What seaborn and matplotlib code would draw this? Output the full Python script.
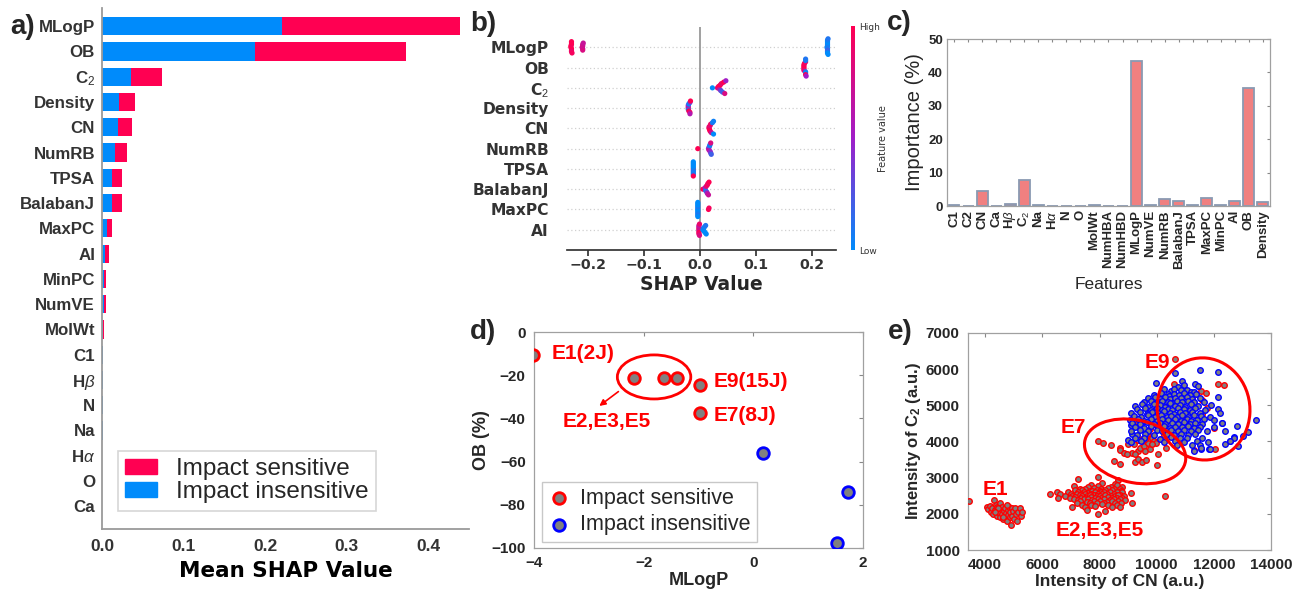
import numpy as np
import pandas as pd
import matplotlib
matplotlib.use('Agg')
import matplotlib.pyplot as plt
import seaborn as sns
from matplotlib.patches import Ellipse, Patch
from matplotlib.colors import LinearSegmentedColormap, Normalize
import matplotlib.cm as cm

sns.set_theme(style='white')
plt.rcParams['font.family'] = ['DejaVu Sans']
plt.rcParams['mathtext.fontset'] = 'custom'
plt.rcParams['mathtext.rm'] = 'Liberation Sans'
plt.rcParams['mathtext.it'] = 'Liberation Sans:italic'
plt.rcParams['mathtext.bf'] = 'Liberation Sans:bold'

RED = '#ff0052'
BLUE = '#008bfb'
ARIAL = ['Liberation Sans']

# ---------------- panel a data ----------------
a_features = ['MLogP', 'OB', 'C$_2$', 'Density', 'CN', 'NumRB', 'TPSA', 'BalabanJ', 'MaxPC', 'AI',
              'MinPC', 'NumVE', 'MolWt', 'C1', 'H$\\beta$', 'N', 'Na', 'H$\\alpha$', 'O', 'Ca']
a_insens = [0.221, 0.187, 0.036, 0.021, 0.019, 0.016, 0.012, 0.012, 0.006, 0.004,
            0.003, 0.003, 0.001, 0.0015, 0.001, 0.001, 0.001, 0.0004, 0.0004, 0.0004]
a_sens = [0.218, 0.186, 0.037, 0.020, 0.018, 0.015, 0.012, 0.012, 0.006, 0.004,
          0.002, 0.002, 0.001, 0.0, 0.0, 0.0, 0.0, 0.0, 0.0, 0.0]
a_xticks = [0.0, 0.1, 0.2, 0.3, 0.4]

# ---------------- panel b data (shap value, feature value) ----------------
b_features = ['MLogP', 'OB', 'C$_2$', 'Density', 'CN', 'NumRB', 'TPSA', 'BalabanJ', 'MaxPC', 'AI']
b_mlogp = [(-0.229, 1.0), (-0.229, 0.95), (-0.230, 1.0), (-0.229, 1.0), (-0.228, 0.95), (-0.229, 1.0),
           (-0.230, 1.0), (-0.229, 0.9), (-0.229, 1.0),
           (-0.209, 0.75), (-0.209, 0.7), (-0.210, 0.8), (-0.209, 0.75), (-0.208, 0.7), (-0.209, 0.8),
           (0.227, 0.0), (0.227, 0.05), (0.227, 0.1), (0.228, 0.0), (0.227, 0.2), (0.227, 0.0),
           (0.226, 0.05), (0.227, 0.15), (0.227, 0.0), (0.228, 0.1), (0.227, 0.0), (0.227, 0.05)]
b_ob = [(0.185, 1.0), (0.185, 0.9), (0.185, 1.0), (0.186, 0.95), (0.185, 1.0), (0.185, 0.85),
        (0.188, 0.1), (0.188, 0.9), (0.188, 0.0), (0.189, 0.5), (0.188, 0.05), (0.188, 1.0), (0.188, 0.1)]
b_c2 = [(0.022, 0.0),
        (0.031, 0.8), (0.033, 1.0), (0.035, 0.6), (0.036, 1.0), (0.037, 0.3), (0.038, 0.9),
        (0.040, 0.2), (0.042, 1.0), (0.044, 0.8), (0.046, 0.5)]
b_density = [(-0.021, 1.0), (-0.021, 0.7), (-0.021, 0.1), (-0.020, 1.0), (-0.021, 0.5), (-0.020, 0.0),
             (-0.018, 0.9), (-0.018, 0.3), (-0.017, 1.0), (-0.018, 0.6)]
b_cn = [(0.016, 1.0), (0.016, 0.9), (0.017, 1.0), (0.018, 0.8), (0.018, 1.0), (0.019, 0.95),
        (0.020, 0.7), (0.022, 0.1), (0.024, 0.0), (0.024, 0.05)]
b_numrb = [(-0.004, 1.0),
           (0.015, 0.6), (0.016, 0.3), (0.016, 0.7), (0.017, 0.1), (0.018, 0.5), (0.018, 0.0),
           (0.019, 0.4), (0.019, 0.8), (0.020, 0.2)]
b_tpsa = [(-0.012, 1.0), (-0.012, 0.0), (-0.012, 0.05), (-0.012, 0.0), (-0.012, 0.1), (-0.012, 0.0),
          (-0.012, 0.05), (-0.012, 0.0), (-0.012, 0.1), (-0.012, 0.0), (-0.012, 1.0)]
b_balabanj = [(0.005, 1.0),
              (0.009, 0.5), (0.010, 0.1), (0.011, 0.8), (0.012, 0.3), (0.013, 1.0), (0.013, 0.6),
              (0.014, 0.9), (0.015, 0.7), (0.016, 1.0)]
b_maxpc = [(-0.004, 0.0), (-0.004, 0.05), (-0.004, 0.0), (-0.004, 0.1), (-0.004, 0.0), (-0.004, 0.0),
           (-0.004, 0.05), (-0.004, 0.0), (-0.004, 0.1), (-0.004, 0.0), (-0.004, 0.0),
           (0.015, 1.0), (0.016, 0.95)]
b_ai = [(-0.002, 0.8), (-0.002, 1.0), (-0.002, 0.7), (-0.001, 0.9), (-0.002, 0.75), (-0.002, 1.0),
        (-0.001, 0.8), (-0.002, 0.65), (-0.002, 0.9),
        (0.005, 0.0), (0.006, 0.1), (0.007, 0.0), (0.008, 0.05), (0.009, 0.0), (0.010, 0.1), (0.011, 0.0)]
b_rows = [b_mlogp, b_ob, b_c2, b_density, b_cn, b_numrb, b_tpsa, b_balabanj, b_maxpc, b_ai]
b_xticks = [-0.2, -0.1, 0.0, 0.1, 0.2]

# ---------------- panel c data ----------------
c_features = ['C1', 'C2', 'CN', 'Ca', 'H$\\beta$', 'C$_2$', 'Na', 'H$\\alpha$', 'N', 'O', 'MolWt',
              'NumHBA', 'NumHBD', 'MLogP', 'NumVE', 'NumRB', 'BalabanJ', 'TPSA', 'MaxPC', 'MinPC',
              'AI', 'OB', 'Density']
c_importance = [0.2, 0.1, 4.4, 0.1, 0.5, 7.9, 0.2, 0.1, 0.1, 0.1, 0.2,
                0.1, 0.1, 43.4, 0.2, 2.2, 1.5, 0.2, 2.3, 0.2,
                1.5, 35.4, 1.1]

# ---------------- panel d data ----------------
d_mlogp = [-4.02, -2.17, -1.62, -1.40, -0.97, -0.97, 0.17, 1.72, 1.52]
d_ob = [-10.6, -21.4, -21.4, -21.4, -24.5, -37.3, -56.0, -74.3, -97.5]
d_class = ['Impact sensitive', 'Impact sensitive', 'Impact sensitive', 'Impact sensitive',
           'Impact sensitive', 'Impact sensitive',
           'Impact insensitive', 'Impact insensitive', 'Impact insensitive']

# ---------------- panel e data (CN intensity, C2 intensity) ----------------
e1_pts = [(3450, 2350), (4050, 2180), (4080, 2120), (4150, 2220), (4200, 2050), (4230, 2150), (4280, 2000),
          (4300, 2380), (4330, 2100), (4380, 2250), (4400, 1950), (4420, 2180), (4460, 2060), (4500, 2300),
          (4520, 1900), (4550, 2120), (4580, 2000), (4600, 2200), (4630, 1850), (4650, 2080), (4680, 1950),
          (4700, 2150), (4720, 2030), (4750, 1800), (4780, 2100), (4800, 1980), (4830, 2200), (4850, 1900),
          (4880, 2050), (4900, 1700), (4920, 2150), (4950, 1950), (4980, 2080), (5000, 1850), (5050, 2150),
          (5080, 2000), (5120, 1800), (5150, 2050), (5200, 2150), (5250, 1950), (5280, 2050), (4450, 2150),
          (4620, 1920), (4750, 2250), (4350, 2050)]
e235_pts = [(7950, 3010), (7250, 2950), (8650, 2940), (8100, 2860), (8550, 2830), (7700, 2790), (8600, 2800),
            (7100, 2760), (7600, 2740), (7950, 2770), (8400, 2730), (8800, 2750),
            (7300, 2700), (7500, 2690), (7800, 2720), (8050, 2680), (8300, 2710), (8500, 2690), (8700, 2700),
            (7150, 2650), (7400, 2660), (7650, 2640), (7900, 2670), (8000, 2630), (8200, 2650), (8450, 2660),
            (8750, 2640), (6500, 2600), (6900, 2590), (7250, 2610), (7450, 2600), (7600, 2580), (7750, 2620),
            (7850, 2600), (8050, 2590), (8150, 2610), (8350, 2600), (8600, 2590), (8800, 2610),
            (6250, 2560), (6600, 2550), (7000, 2540), (7200, 2560), (7350, 2540), (7500, 2550), (7700, 2560),
            (7800, 2530), (7950, 2550), (8100, 2560), (8250, 2540), (8500, 2550), (8700, 2530), (9100, 2570),
            (6800, 2500), (7050, 2490), (7300, 2510), (7400, 2500), (7550, 2480), (7650, 2510), (7900, 2500),
            (8000, 2490), (8200, 2510), (8400, 2500), (8550, 2490), (8650, 2510), (8850, 2500),
            (6550, 2450), (6950, 2440), (7150, 2460), (7350, 2450), (7500, 2430), (7700, 2460), (7850, 2450),
            (8050, 2440), (8300, 2460), (8450, 2450), (8600, 2430), (8800, 2450),
            (7100, 2400), (7250, 2390), (7450, 2410), (7600, 2400), (7750, 2380), (7950, 2410), (8150, 2400),
            (8350, 2390), (8500, 2410), (8700, 2400), (8900, 2380),
            (7300, 2350), (7550, 2340), (7800, 2360), (8000, 2350), (8250, 2340), (8450, 2360), (8650, 2350),
            (7200, 2300), (7650, 2290), (7900, 2310), (8150, 2300), (8550, 2290), (8750, 2310), (9150, 2290),
            (7400, 2250), (7700, 2240), (8100, 2260), (8300, 2250), (8600, 2240),
            (7050, 2200), (7500, 2190), (7850, 2210), (8450, 2200), (8700, 2190),
            (7550, 2100), (8200, 2080), (7950, 2000), (10300, 2500)]
e7_pts = [(7960, 4000), (8120, 3970), (8410, 3900), (8700, 3830), (8720, 3770), (8870, 3680), (9010, 3940),
          (9130, 3680), (9190, 3930), (9360, 3740), (9420, 3830), (9540, 3880), (9600, 3740), (9710, 3970),
          (9770, 4150), (9830, 4110), (9890, 4020), (9980, 3970), (10060, 3650), (10330, 3830), (8490, 3460),
          (8720, 3370), (9250, 3420), (9360, 3510), (9480, 3420), (9630, 3480), (10000, 3350), (9480, 4060),
          (9650, 4200), (9600, 4060), (9360, 4040), (9250, 3650), (8950, 3650), (9770, 3790), (9830, 3930)]
e9_red_pts = [(10650, 6290), (10590, 5580), (11540, 5400), (11730, 5350), (12160, 5600), (12340, 5550),
              (11580, 5140), (11230, 5100), (11750, 4920), (11580, 4770), (12010, 4360), (12040, 3780),
              (11290, 3760), (11230, 5210), (10300, 4950), (10800, 4480), (9350, 4550), (10250, 4180),
              (9750, 4350), (11000, 4600)]
e_blue_pts = [(11520, 5970), (12160, 5920), (10650, 5880), (9980, 5610), (10880, 5660), (10940, 5560),
              (11350, 5590), (11460, 5530), (10750, 5500), (12160, 4890), (12220, 4800), (12280, 4520),
              (12800, 4430), (13480, 4590), (13210, 4250), (13030, 4150), (12690, 4130), (12570, 4020),
              (12390, 3920), (11830, 3790), (11540, 3790), (11290, 3740), (9000, 4050), (9150, 4200),
              (9100, 4450), (10250, 5440), (10500, 5390), (10620, 5450), (11050, 5420), (11200, 5370),
              (10850, 5410), (10400, 5320), (11300, 5360), (10150, 5260),
              (9900, 5290), (10150, 5330), (10420, 5270), (10600, 5310), (10780, 5280), (10950, 5330),
              (11150, 5290), (11380, 5310),
              (9700, 5190), (9950, 5230), (10100, 5180), (10300, 5220), (10480, 5170), (10650, 5210),
              (10850, 5190), (11050, 5240), (11250, 5180), (11500, 5200), (12150, 5220),
              (9550, 5090), (9800, 5130), (10050, 5080), (10200, 5120), (10380, 5100), (10550, 5070),
              (10720, 5130), (10900, 5090), (11100, 5110), (11300, 5080), (11650, 5100),
              (9250, 4980), (9500, 5030), (9700, 4960), (9900, 5040), (10120, 5010), (10300, 4950),
              (10450, 5060), (10650, 4990), (10800, 5020), (11000, 4940), (11200, 5050), (11450, 4970),
              (11900, 5010),
              (9300, 4890), (9600, 4920), (9800, 4870), (10000, 4930), (10200, 4880), (10400, 4910),
              (10550, 4860), (10750, 4920), (10950, 4890), (11150, 4870), (11350, 4930), (11700, 4880),
              (9100, 4790), (9400, 4820), (9650, 4770), (9850, 4810), (10050, 4780), (10250, 4830),
              (10450, 4790), (10600, 4760), (10800, 4820), (11000, 4780), (11250, 4810), (11500, 4790),
              (9200, 4700), (9450, 4680), (9700, 4730), (9950, 4690), (10150, 4720), (10350, 4670),
              (10500, 4710), (10700, 4690), (10900, 4730), (11100, 4680), (11300, 4720), (11550, 4700),
              (11850, 4690),
              (9050, 4600), (9350, 4630), (9550, 4580), (9800, 4610), (10000, 4570), (10200, 4620),
              (10400, 4590), (10650, 4610), (10850, 4580), (11050, 4630), (11200, 4570), (11400, 4600),
              (11650, 4620), (12000, 4590),
              (9150, 4500), (9400, 4480), (9650, 4530), (9900, 4490), (10100, 4520), (10300, 4470),
              (10550, 4510), (10750, 4490), (10950, 4530), (11150, 4480), (11350, 4510), (11600, 4490),
              (12300, 4500),
              (9250, 4410), (9550, 4380), (9800, 4420), (10050, 4390), (10250, 4430), (10450, 4380),
              (10650, 4410), (10900, 4390), (11100, 4420), (11300, 4380), (11500, 4410), (12000, 4390),
              (9100, 4300), (9400, 4320), (9700, 4280), (10000, 4310), (10200, 4290), (10500, 4330),
              (10750, 4280), (10950, 4310), (11200, 4290), (11450, 4320), (11750, 4300), (12400, 4280),
              (9300, 4190), (9600, 4220), (9900, 4180), (10350, 4210), (10600, 4190), (10850, 4220),
              (11100, 4180), (11350, 4200),
              (9250, 4090), (9550, 4110), (10100, 4080), (10500, 4120), (10800, 4090), (11050, 4110),
              (11600, 4100), (12700, 4090),
              (9100, 3990), (9450, 4010), (10250, 3980), (10650, 4020), (10950, 3990), (11400, 4010),
              (11800, 3980), (12550, 4000),
              (10700, 3900), (11250, 3890), (11500, 3910), (12850, 3880),
              (11550, 3810), (11850, 3800)]

# ---------------- figure ----------------
fig = plt.figure(figsize=(12.93, 5.93), dpi=100)

# ===== panel a =====
axa = fig.add_axes([0.0789, 0.1079, 0.2838, 0.8786])
a_total = [s + i for s, i in zip(a_sens, a_insens)]
sns.barplot(x=a_total, y=a_features, orient='h', color=RED, width=0.72, saturation=1,
            errorbar=None, linewidth=0, ax=axa)
sns.barplot(x=a_insens, y=a_features, orient='h', color=BLUE, width=0.72, saturation=1,
            errorbar=None, linewidth=0, ax=axa)
axa.set_xlim(0, 0.45)
axa.set_ylim(19.9, -0.72)
for s in ['top', 'right']:
    axa.spines[s].set_visible(False)
for s in ['left', 'bottom']:
    axa.spines[s].set_color('#9a9a9a')
    axa.spines[s].set_linewidth(1.3)
axa.set_xticks(a_xticks)
axa.set_xticklabels(['%.1f' % v for v in a_xticks])
axa.tick_params(axis='y', length=0, pad=5)
axa.tick_params(axis='x', length=3, color='#9a9a9a', pad=4)
for lab in axa.get_yticklabels():
    lab.set_fontfamily(ARIAL); lab.set_fontsize(12.2); lab.set_color('#333333'); lab.set_fontweight('bold')
for lab in axa.get_xticklabels():
    lab.set_fontfamily(ARIAL); lab.set_fontsize(12.5); lab.set_color('#333333'); lab.set_fontweight('bold')
axa.set_ylabel('')
axa.set_xlabel('Mean SHAP Value', fontsize=15.5, fontweight='bold', labelpad=5, color='black')
leg = axa.legend(handles=[Patch(color=RED, label='Impact sensitive'),
                          Patch(color=BLUE, label='Impact insensitive')],
                 loc='lower left', bbox_to_anchor=(0.01, 0.012), prop={'family': ARIAL, 'size': 17.5},
                 frameon=True, fancybox=False, edgecolor='#cccccc', handlelength=1.3, handleheight=0.6,
                 handletextpad=0.8, borderpad=0.3, labelspacing=0.05)
leg.get_frame().set_linewidth(1.2)
fig.text(0.008, 0.955, 'a)', fontsize=20, fontweight='bold', family=ARIAL, va='center')

# ===== panel b =====
axb = fig.add_axes([0.4385, 0.5784, 0.208, 0.376])
cmap = LinearSegmentedColormap.from_list('shap_rb', [BLUE, '#a01ec8', RED])
recs = []
nrow = len(b_features)
for r, pts in enumerate(b_rows):
    ybase = nrow - 1 - r
    pts_sorted = sorted(pts, key=lambda p: p[0])
    groups = []
    for p in pts_sorted:
        if groups and p[0] - groups[-1][-1][0] <= 0.005:
            groups[-1].append(p)
        else:
            groups.append([p])
    for g in groups:
        for k, (xv, fv) in enumerate(g):
            n = (k + 1) // 2
            off = n * 0.07 * (1 if k % 2 else -1)
            recs.append({'shap': xv, 'ypos': ybase + off, 'fv': fv})
bdf = pd.DataFrame(recs)
for i in range(nrow):
    axb.axhline(i, color='#d0d0d0', lw=0.9, dashes=(1, 2), zorder=0)
axb.axvline(0, color='#999999', lw=1.3, zorder=1)
sns.scatterplot(data=bdf, x='shap', y='ypos', hue='fv', palette=cmap, hue_norm=(0, 1), legend=False,
                s=14, linewidth=0, ax=axb, zorder=3)
axb.set_xlim(-0.237, 0.242)
axb.set_ylim(-1, 10)
axb.set_yticks(list(range(nrow)))
axb.set_yticklabels(list(reversed(b_features)), fontsize=11.2, fontweight='bold', color='#333333')
axb.set_xticks(b_xticks)
axb.set_xticklabels(['\u22120.2', '\u22120.1', '0.0', '0.1', '0.2'], fontsize=10.2, fontweight='bold',
                    color='#333333')
for s in ['top', 'right', 'left']:
    axb.spines[s].set_visible(False)
axb.spines['bottom'].set_color('#333333')
axb.tick_params(axis='y', length=0, pad=13)
axb.tick_params(axis='x', length=4, color='#333333', bottom=True, pad=2)
axb.set_ylabel('')
axb.set_xlabel('SHAP Value', fontsize=13.5, fontweight='bold', labelpad=2)
cax = fig.add_axes([0.6585, 0.578, 0.0031, 0.3777])
cb = fig.colorbar(cm.ScalarMappable(norm=Normalize(0, 1), cmap=cmap), cax=cax)
cb.outline.set_visible(False)
cb.set_ticks([0, 1])
cb.set_ticklabels(['Low', 'High'])
cb.ax.tick_params(labelsize=6.5, length=0, pad=3, labelcolor='#333333')
cb.set_label('Feature value', fontsize=7, labelpad=-2, color='#333333')
fig.text(0.3635, 0.96, 'b)', fontsize=20, fontweight='bold', family=ARIAL, va='center')

# ===== panel c =====
axc = fig.add_axes([0.7324, 0.6526, 0.2498, 0.2816])
sns.barplot(x=c_features, y=c_importance, color='#f08080', edgecolor='#8a9ab2', linewidth=1.3,
            width=0.78, saturation=1, errorbar=None, ax=axc)
axc.set_ylim(0, 50)
axc.set_xlim(-0.5, len(c_features) - 0.5)
axc.set_yticks([0, 10, 20, 30, 40, 50])
axc.tick_params(axis='both', direction='in', top=True, right=True, length=2.5, width=0.8,
                color='#888888', pad=3)
axc.set_xticks(range(len(c_features)))
axc.set_xticklabels(c_features, rotation=90, fontsize=9.5, fontweight='bold', family=ARIAL)
for lab in axc.get_yticklabels():
    lab.set_fontfamily(ARIAL); lab.set_fontsize(9.5); lab.set_fontweight('bold')
for s in axc.spines.values():
    s.set_color('#a0a0a0'); s.set_linewidth(0.9)
axc.set_ylabel('Importance (%)', fontsize=14.5, family=ARIAL, labelpad=3)
axc.set_xlabel('Features', fontsize=12.5, family=ARIAL, labelpad=6)
fig.text(0.686, 0.962, 'c)', fontsize=20, fontweight='bold', family=ARIAL, va='center')

# ===== panel d =====
axd = fig.add_axes([0.413, 0.0759, 0.2544, 0.3642])
ddf = pd.DataFrame({'MLogP': d_mlogp, 'OB': d_ob, 'cls': d_class})
for cls, ec in [('Impact sensitive', '#ff0000'), ('Impact insensitive', '#0000ff')]:
    sub = ddf[ddf['cls'] == cls]
    sns.scatterplot(data=sub, x='MLogP', y='OB', color='#808080', edgecolor=ec, linewidth=2.0,
                    s=70, ax=axd, label=cls, zorder=4)
axd.set_xlim(-4, 2)
axd.set_ylim(-100, 0)
axd.set_xticks([-4, -2, 0, 2])
axd.set_yticks([0, -20, -40, -60, -80, -100])
axd.tick_params(axis='both', direction='in', top=True, right=True, length=3, width=0.8,
                color='#888888', pad=6)
for lab in axd.get_xticklabels() + axd.get_yticklabels():
    lab.set_fontfamily(ARIAL); lab.set_fontsize(11); lab.set_fontweight('bold')
for s in axd.spines.values():
    s.set_color('#a0a0a0'); s.set_linewidth(0.9)
axd.set_xlabel('MLogP', fontsize=13, fontweight='bold', family=ARIAL, labelpad=1)
axd.set_ylabel('OB (%)', fontsize=13, fontweight='bold', family=ARIAL, labelpad=1)
tkw = dict(color='#ff0000', fontsize=15, fontweight='bold', family=ARIAL, va='center', ha='left')
axd.text(-3.68, -9.9, 'E1(2J)', **tkw)
axd.text(-0.73, -23.0, 'E9(15J)', **tkw)
axd.text(-0.73, -38.5, 'E7(8J)', **tkw)
axd.text(-3.48, -41.5, 'E2,E3,E5', **tkw)
axd.add_patch(Ellipse((-1.81, -20.8), 1.34, 20.4, fill=False, edgecolor='#ff0000', lw=2.0, zorder=5))
axd.annotate('', xy=(-2.85, -35.0), xytext=(-2.42, -26.8),
             arrowprops=dict(arrowstyle='-|>', color='#ff0000', lw=1.2, mutation_scale=9))
legd = axd.legend(loc='lower left', bbox_to_anchor=(0.012, 0.008), prop={'family': ARIAL, 'size': 15.5},
                  frameon=True, fancybox=False, edgecolor='#bbbbbb', handlelength=1.0,
                  handletextpad=0.45, borderpad=0.3, labelspacing=0.25, borderaxespad=0.2)
legd.get_frame().set_linewidth(1.0)
fig.text(0.3635, 0.44, 'd)', fontsize=20, fontweight='bold', family=ARIAL, va='center')

# ===== panel e =====
axe = fig.add_axes([0.7487, 0.0725, 0.2343, 0.366])
red_pts = e1_pts + e235_pts + e7_pts + e9_red_pts
edf_r = pd.DataFrame(red_pts, columns=['CN', 'C2'])
edf_b = pd.DataFrame(e_blue_pts, columns=['CN', 'C2'])
sns.scatterplot(data=edf_r, x='CN', y='C2', color='#808080', edgecolor='#ff0000', linewidth=1.0,
                s=16, ax=axe, zorder=3)
sns.scatterplot(data=edf_b, x='CN', y='C2', color='#808080', edgecolor='#0000ff', linewidth=1.0,
                s=16, ax=axe, zorder=4)
axe.set_xlim(3400, 14000)
axe.set_ylim(1000, 7000)
axe.set_xticks([4000, 6000, 8000, 10000, 12000, 14000])
axe.set_yticks([1000, 2000, 3000, 4000, 5000, 6000, 7000])
axe.tick_params(axis='both', direction='in', top=True, right=True, length=3, width=0.8,
                color='#888888', pad=6)
for lab in axe.get_xticklabels() + axe.get_yticklabels():
    lab.set_fontfamily(ARIAL); lab.set_fontsize(11); lab.set_fontweight('bold')
for s in axe.spines.values():
    s.set_color('#a0a0a0'); s.set_linewidth(0.9)
axe.set_xlabel('Intensity of CN (a.u.)', fontsize=12.5, fontweight='bold', family=ARIAL, labelpad=1)
axe.set_ylabel('Intensity of C$_\\mathbf{2}$ (a.u.)', fontsize=12, fontweight='bold', family=ARIAL,
               labelpad=2)
axe.add_patch(Ellipse((11640, 4900), 3250, 2820, angle=-5, fill=False, edgecolor='#ff0000', lw=2.2, zorder=6))
axe.add_patch(Ellipse((9244, 3727), 3570, 1740, angle=-8, fill=False, edgecolor='#ff0000', lw=2.2, zorder=6))
tke = dict(color='#ff0000', fontsize=15, fontweight='bold', family=ARIAL, va='center', ha='left')
axe.text(9594, 6180, 'E9', **tke)
axe.text(6622, 4384, 'E7', **tke)
axe.text(3920, 2682, 'E1', **tke)
axe.text(6448, 1530, 'E2,E3,E5', **tke)
fig.text(0.687, 0.44, 'e)', fontsize=20, fontweight='bold', family=ARIAL, va='center')

fig.savefig('out.png', dpi=100)
